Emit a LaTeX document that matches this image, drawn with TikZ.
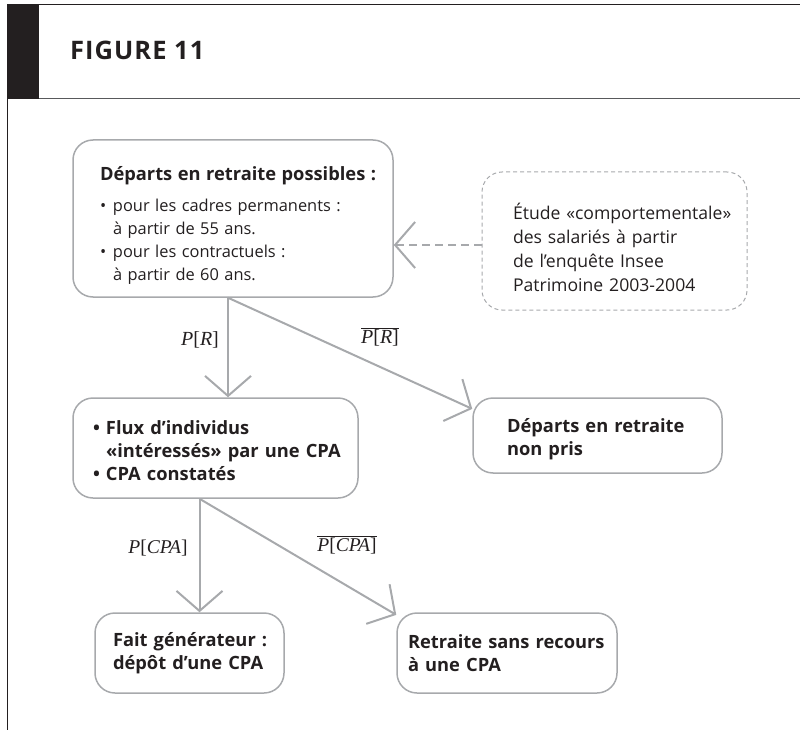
\documentclass[tikz,border=0pt]{standalone}
\usepackage{fontspec}
\setmainfont{Open Sans}
\newfontfamily\tms{Liberation Serif}
\usetikzlibrary{arrows.meta,calc}
\definecolor{ink}{HTML}{231F20}
\definecolor{boxgray}{HTML}{A7A9AC}
\definecolor{rulegray}{HTML}{58595B}
\begin{document}
\begin{tikzpicture}[x=1pt,y=-1pt,
  box/.style={draw=boxgray, line width=1.5pt, rounded corners=20pt, text=ink,
    align=left, inner sep=0pt},
  boldbox/.style={box, font=\bfseries\fontsize{18.3}{23}\selectfont},
  dashbox/.style={box, line width=1pt, dash pattern=on 4pt off 3pt,
    font=\fontsize{17.6}{24}\selectfont},
  conn/.style={draw=boxgray, line width=2pt,
    -{Straight Barb[length=20pt,width=46pt]}},
  dconn/.style={conn, dash pattern=on 8pt off 5pt},
  lbl/.style={text=ink, inner sep=0pt, font=\tms\fontsize{20}{20}\selectfont},
  lbls/.style={text=ink, inner sep=0pt, font=\tms\fontsize{19.5}{20}\selectfont}
]
\useasboundingbox (0,0) rectangle (800,730);
% frame
\fill[ink] (7,4) rectangle (39,99);
\draw[ink, line width=1.3pt] (7,4.7) -- (800,4.7);
\draw[rulegray, line width=1.3pt] (39,98.7) -- (800,98.7);
\draw[ink, line width=1pt] (7.5,98.7) -- (7.5,730);
\node[anchor=base west, font=\bfseries\fontsize{25.5}{26}\selectfont\addfontfeature{LetterSpace=4}, text=ink,
  inner sep=0pt] (title) at (70,60) {FIGURE 11};
% boxes
\node[box, minimum width=320pt, minimum height=157pt, text width=266pt,
  font=\fontsize{16.4}{23}\selectfont] (A) at (233,218.5)
  {\mbox{\rule{0pt}{27pt}\bfseries\fontsize{18.3}{23}\selectfont Départs en retraite possibles :}\\[8pt]
   \mbox{\makebox[13pt][l]{•}pour les cadres permanents :}\\
   \mbox{\hspace*{13pt}à partir de 55 ans.}\\
   \mbox{\makebox[13pt][l]{•}pour les contractuels :}\\
   \mbox{\hspace*{13pt}à partir de 60 ans.}};
\node[dashbox, minimum width=265pt, minimum height=138pt, text width=203pt]
  (F) at (614.5,241)
  {\mbox{\rule{0pt}{29pt}Étude «comportementale»}\\\mbox{des salariés à partir}\\
   \mbox{de l’enquête Insee}\\\mbox{Patrimoine 2003-2004}};
\node[boldbox, minimum width=285pt, minimum height=100pt, text width=245pt]
  (B) at (215.5,448)
  {\mbox{\rule{0pt}{19pt}\makebox[13pt][l]{•}Flux d’individus}\\
   \mbox{\hspace*{13pt}«intéressés» par une CPA}\\
   \mbox{\makebox[13pt][l]{•}CPA constatés}};
\node[boldbox, minimum width=249pt, minimum height=75pt, text width=181pt]
  (C) at (597.5,435.5)
  {\mbox{\rule{0pt}{22pt}Départs en retraite}\\\mbox{non pris}};
\node[boldbox, minimum width=189pt, minimum height=80pt, text width=153pt]
  (D) at (189.5,653)
  {\mbox{Fait générateur :}\\\mbox{dépôt d’une CPA}};
\node[boldbox, minimum width=220pt, minimum height=80pt, text width=198pt]
  (E) at (507,653)
  {\mbox{Retraite sans recours}\\\mbox{à une CPA}};
% connectors
\coordinate (a0) at ($(A.south)+(-5,0)$);
\draw[conn] (a0) -- (a0 |- B.north);
\draw[conn] (a0) -- (C.168);
\coordinate (fa) at ($(F.west)+(0,4)$);
\draw[dconn] (fa) -- (fa -| A.east);
\coordinate (b0) at ($(B.south)+(-16,0)$);
\draw[conn] (b0) -- (b0 |- D.north);
\draw[conn] (b0) -- (E.161);
% labels
\node[lbl] (lR) at (200,340) {\textit{P}[\textit{R}]};
\node[lbl] (lRbar) at (380,337)
  {$\overline{\hbox{\tms\fontsize{20}{20}\selectfont\textit{P}[\textit{R}]}}$};
\node[lbls] (lC) at (158,548) {\textit{P}[\textit{CPA}]};
\node[lbls] (lCbar) at (347,545)
  {$\overline{\hbox{\tms\fontsize{19.5}{20}\selectfont\textit{P}[\textit{CPA}]}}$};
\end{tikzpicture}
\end{document}
